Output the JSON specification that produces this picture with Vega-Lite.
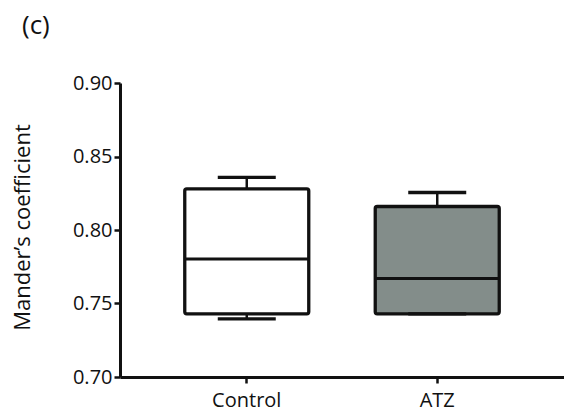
{
  "$schema": "https://vega.github.io/schema/vega-lite/v6.json",
  "autosize": "none",
  "width": 444,
  "height": 294,
  "padding": {"left": 120, "top": 83, "right": 0, "bottom": 37},
  "background": "white",
  "title": {
    "text": "(c)",
    "anchor": "start",
    "frame": "group",
    "dx": -98,
    "offset": 13,
    "baseline": "alphabetic",
    "font": "Open Sans",
    "fontSize": 26,
    "fontWeight": "normal",
    "color": "#111"
  },
  "data": {
    "values": [
      {"group": "Control", "min": 0.7395, "q1": 0.743, "median": 0.7803, "q3": 0.828, "max": 0.8358},
      {"group": "ATZ", "min": 0.743, "q1": 0.743, "median": 0.767, "q3": 0.816, "max": 0.8255}
    ]
  },
  "config": {
    "view": {"stroke": null},
    "axis": {
      "labelFont": "Open Sans",
      "titleFont": "Open Sans",
      "labelColor": "#111",
      "titleColor": "#111",
      "domainColor": "#111",
      "tickColor": "#111",
      "grid": false
    }
  },
  "encoding": {
    "x": {
      "field": "group",
      "type": "nominal",
      "sort": ["Control", "ATZ"],
      "scale": {"paddingInner": 0.349, "paddingOuter": 0.34},
      "axis": {
        "title": null,
        "labelAngle": 0,
        "labelFontSize": 20,
        "labelPadding": 7,
        "tickSize": 6,
        "tickWidth": 2.5,
        "domainWidth": 3
      }
    }
  },
  "layer": [
    {
      "mark": {"type": "rule", "strokeWidth": 2.5, "color": "#111"},
      "encoding": {
        "y": {
          "field": "min",
          "type": "quantitative",
          "scale": {"domain": [0.7, 0.9], "nice": false, "zero": false},
          "axis": {
            "title": "Mander’s coefficient",
            "titleFontSize": 22,
            "titleFontWeight": "normal",
            "titleX": -91,
            "titleY": 144,
            "titleBaseline": "alphabetic",
            "titleAngle": -90,
            "values": [0.7, 0.75, 0.8, 0.85, 0.9],
            "format": ".2f",
            "labelFontSize": 20,
            "labelPadding": 2,
            "tickSize": 6,
            "tickWidth": 2.5,
            "domainWidth": 3
          }
        },
        "y2": {"field": "max"}
      }
    },
    {
      "mark": {"type": "bar", "stroke": "#111", "strokeWidth": 3.3, "cornerRadius": 2, "size": 124},
      "encoding": {
        "y": {"field": "q1", "type": "quantitative"},
        "y2": {"field": "q3"},
        "fill": {
          "field": "group",
          "type": "nominal",
          "scale": {"domain": ["Control", "ATZ"], "range": ["#ffffff", "#838d8a"]},
          "legend": null
        }
      }
    },
    {
      "mark": {"type": "tick", "color": "#111", "thickness": 3, "size": 124, "opacity": 1},
      "encoding": {"y": {"field": "median", "type": "quantitative"}}
    },
    {
      "mark": {"type": "tick", "color": "#111", "thickness": 3.3, "size": 58, "opacity": 1},
      "encoding": {"y": {"field": "max", "type": "quantitative"}}
    },
    {
      "mark": {"type": "tick", "color": "#111", "thickness": 3.3, "size": 58, "opacity": 1},
      "encoding": {"y": {"field": "min", "type": "quantitative"}}
    }
  ]
}
